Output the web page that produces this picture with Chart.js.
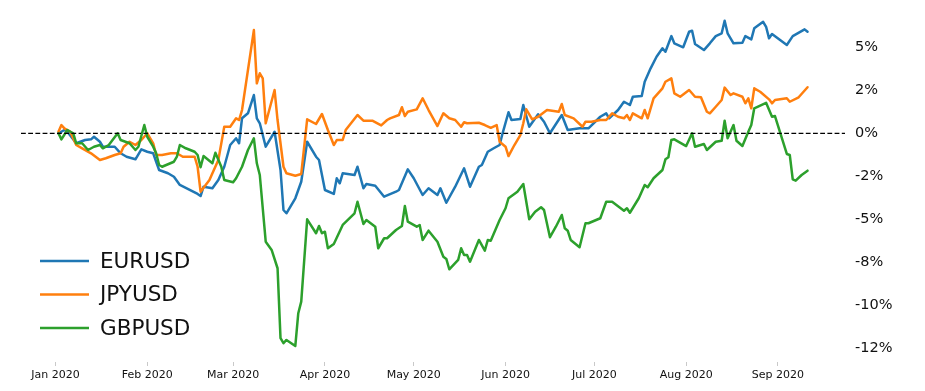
<!DOCTYPE html>
<html>
<head>
<meta charset="utf-8">
<script src="https://cdn.jsdelivr.net/npm/chart.js@4.4.1/dist/chart.umd.min.js"></script>
<style>
html,body{margin:0;padding:0;background:#fff;}
#wrap{width:925px;height:391px;}
</style>
</head>
<body>
<div id="wrap"><canvas id="c" width="925" height="391"></canvas></div>
<script>
// x values: days since 1 Jan 2020; y values: % change
const monthTickDays = [0, 31, 60, 91, 121, 152, 182, 213, 244];
const monthTickLabels = ['Jan 2020','Feb 2020','Mar 2020','Apr 2020','May 2020','Jun 2020','Jul 2020','Aug 2020','Sep 2020'];
const yTickValues = [5, 2.5, 0, -2.5, -5, -7.5, -10, -12.5];
const yTickLabels = ['5%','2%','0%','-2%','-5%','-8%','-10%','-12%'];
const seriesNames = ['EURUSD','JPYUSD','GBPUSD'];

const eurDay = [1,3,4,7,10,12,13,15,16,20,22,24,27,29,31,33,34,35,38,40,42,45,48,49,50,53,55,57,59,61,62,63,65,67,68,69,71,74,76,77,78,81,83,85,88,89,91,94,95,96,97,101,102,104,105,108,111,115,116,119,121,124,126,129,130,132,135,138,140,143,144,146,148,150,151,153,154,157,158,160,163,165,167,171,173,177,180,184,186,187,190,192,194,195,198,199,201,203,205,206,208,209,212,214,215,216,219,221,223,225,226,227,229,232,233,235,236,239,240,241,242,247,249,253,254];
const eurPct = [0,0.19,0.09,-0.58,-0.39,-0.35,-0.20,-0.49,-0.78,-0.78,-1.16,-1.36,-1.51,-0.93,-1.07,-1.16,-1.65,-2.13,-2.32,-2.52,-3.00,-3.25,-3.52,-3.64,-3.10,-3.19,-2.71,-1.94,-0.68,-0.29,-0.58,0.87,1.16,2.22,0.87,0.58,-0.78,0.09,-2.13,-4.45,-4.64,-3.77,-2.81,-0.49,-1.36,-1.55,-3.29,-3.52,-2.61,-2.90,-2.32,-2.42,-1.94,-3.19,-2.94,-3.04,-3.68,-3.39,-3.29,-2.09,-2.61,-3.58,-3.19,-3.58,-3.19,-4.03,-3.10,-2.03,-3.10,-1.94,-1.84,-1.07,-0.87,-0.68,0.00,1.22,0.77,0.83,1.64,0.38,1.10,0.67,0.00,1.06,0.19,0.29,0.29,0.96,1.16,0.87,1.35,1.83,1.64,2.12,2.16,2.99,3.77,4.44,4.93,4.73,5.64,5.22,4.99,5.89,5.95,5.18,4.83,5.22,5.64,5.80,6.53,5.80,5.22,5.26,5.64,5.45,6.09,6.47,6.18,5.51,5.76,5.12,5.64,6.03,5.89];

const jpyDay = [1,2,3,5,7,9,12,15,17,20,22,23,25,27,29,31,33,34,36,39,41,43,47,48,49,52,53,55,57,59,61,62,63,67,68,69,70,71,74,75,77,78,81,83,85,88,90,92,94,95,97,98,102,104,107,110,112,113,116,117,118,119,122,124,126,129,131,133,135,137,138,139,143,145,147,149,150,152,153,155,157,158,159,161,163,166,170,171,172,175,178,179,181,184,186,188,190,192,193,194,195,198,199,200,202,205,206,208,209,211,214,216,218,220,221,223,225,226,228,229,232,233,234,235,236,238,241,242,243,247,248,251,254];
const jpyPct = [0.09,0.48,0.29,0.09,-0.68,-0.87,-1.16,-1.55,-1.45,-1.26,-1.16,-0.78,-0.49,-0.68,-0.39,0.00,-0.58,-1.26,-1.26,-1.16,-1.16,-1.36,-1.36,-1.94,-3.39,-2.71,-2.32,-1.55,0.38,0.38,0.87,0.77,1.35,5.99,2.90,3.48,3.19,0.58,2.51,0.77,-1.94,-2.32,-2.46,-2.36,0.81,0.54,1.12,0.19,-0.68,-0.39,-0.39,0.19,1.06,0.73,0.73,0.46,0.77,0.87,1.06,1.51,1.00,1.25,1.39,2.03,1.35,0.42,1.16,0.87,0.77,0.38,0.64,0.58,0.61,0.48,0.32,0.48,-0.49,-0.78,-1.32,-0.68,-0.10,0.58,1.39,0.81,0.96,1.35,1.25,1.70,1.06,0.87,0.38,0.67,0.67,0.77,0.77,1.16,0.96,0.87,1.06,0.77,1.16,0.87,1.35,0.87,2.03,2.61,2.99,3.19,2.32,2.12,2.51,2.12,2.09,1.25,1.16,1.54,1.93,2.65,2.22,2.32,2.12,1.74,2.03,1.45,2.61,2.41,1.97,1.74,1.93,2.03,1.83,2.09,2.67];

const gbpDay = [1,2,4,6,7,9,11,13,15,16,18,21,22,25,27,28,30,31,33,34,35,36,40,41,42,44,47,48,49,50,53,54,56,57,60,61,63,65,67,68,69,71,73,75,76,77,78,81,82,83,85,88,89,90,91,92,94,97,101,102,104,105,108,109,111,112,115,117,118,119,122,123,124,126,129,131,132,133,136,137,138,139,140,143,145,146,147,150,152,153,156,158,160,162,164,165,167,169,171,172,173,174,177,179,180,184,186,188,192,193,194,197,199,200,202,205,206,207,208,209,213,215,216,219,220,223,225,226,227,229,230,232,234,235,236,240,242,243,247,248,249,250,252,254];
const gbpPct = [0,-0.35,0.19,0.00,-0.58,-0.58,-0.97,-0.78,-0.68,-0.87,-0.68,0.00,-0.39,-0.58,-0.97,-0.78,0.48,-0.20,-0.78,-1.16,-1.84,-1.94,-1.65,-1.36,-0.68,-0.87,-1.07,-1.26,-1.97,-1.32,-1.74,-1.13,-1.94,-2.71,-2.84,-2.61,-1.94,-0.97,-0.29,-1.74,-2.42,-6.29,-6.77,-7.83,-11.89,-12.18,-11.99,-12.34,-10.44,-9.77,-4.99,-5.80,-5.38,-5.80,-5.71,-6.67,-6.42,-5.32,-4.64,-3.97,-5.26,-5.03,-5.42,-6.67,-6.09,-6.09,-5.61,-5.38,-4.22,-5.13,-5.42,-5.32,-6.19,-5.65,-6.29,-7.16,-7.29,-7.89,-7.35,-6.67,-7.06,-7.06,-7.45,-6.19,-6.81,-6.19,-6.23,-5.03,-4.35,-3.77,-3.39,-2.94,-4.99,-4.55,-4.29,-4.45,-6.03,-5.42,-4.74,-5.51,-5.65,-6.19,-6.61,-5.22,-5.22,-4.93,-3.97,-3.97,-4.49,-4.35,-4.61,-3.77,-3.00,-3.13,-2.61,-2.13,-1.51,-1.39,-0.39,-0.35,-0.74,0.00,-0.78,-0.62,-0.97,-0.49,-0.43,0.73,-0.29,0.48,-0.43,-0.74,0.09,0.48,1.45,1.77,0.96,1.00,-1.20,-1.26,-2.67,-2.75,-2.42,-2.17];

const colors = ['#1f77b4', '#ff7f0e', '#2ca02c'];

function zip(days, vals) {
  const n = Math.min(days.length, vals.length);
  const out = [];
  for (let i = 0; i < n; i++) out.push({x: days[i], y: vals[i]});
  return out;
}

const FONT = "'DejaVu Sans', sans-serif";

const zeroLinePlugin = {
  id: 'zeroLine',
  afterDatasetsDraw(chart) {
    const {ctx, chartArea} = chart;
    const y = chart.scales.y.getPixelForValue(0);
    ctx.save();
    ctx.strokeStyle = '#000';
    ctx.lineWidth = 1.3;
    ctx.setLineDash([4.8, 2.4]);
    ctx.beginPath();
    ctx.moveTo(chartArea.left, y);
    ctx.lineTo(chartArea.right, y);
    ctx.stroke();
    ctx.restore();
  }
};

const legendPlugin = {
  id: 'customLegend',
  afterDraw(chart) {
    const {ctx} = chart;
    const rows = [261, 294.5, 328];
    ctx.save();
    ctx.font = "21.5px " + FONT;
    ctx.textBaseline = 'middle';
    ctx.textAlign = 'left';
    chart.data.datasets.forEach((ds, i) => {
      const y = rows[i];
      ctx.strokeStyle = ds.borderColor;
      ctx.lineWidth = 2.6;
      ctx.setLineDash([]);
      ctx.beginPath();
      ctx.moveTo(40, y);
      ctx.lineTo(89, y);
      ctx.stroke();
      ctx.fillStyle = '#111';
      ctx.fillText(ds.label, 100, y + 1);
    });
    ctx.restore();
  }
};

new Chart(document.getElementById('c'), {
  type: 'line',
  data: {
    datasets: [
      {label: seriesNames[0], data: zip(eurDay, eurPct), borderColor: colors[0], order: 2},
      {label: seriesNames[1], data: zip(jpyDay, jpyPct), borderColor: colors[1], order: 1},
      {label: seriesNames[2], data: zip(gbpDay, gbpPct), borderColor: colors[2], order: 0}
    ].map(d => Object.assign(d, {borderWidth: 2.5, pointRadius: 0, tension: 0, fill: false, borderJoinStyle: 'round', borderCapStyle: 'round'}))
  },
  options: {
    responsive: false,
    animation: false,
    devicePixelRatio: 1,
    layout: {padding: {left: 21, top: 3, right: 0, bottom: 0}},
    plugins: {legend: {display: false}, tooltip: {enabled: false}},
    scales: {
      x: {
        type: 'linear',
        min: -11.65,
        max: 266.65,
        afterBuildTicks(s) { s.ticks = monthTickDays.map(v => ({value: v})); },
        afterFit(s) { s.height = 29; s.paddingLeft = 0; s.paddingRight = 0; },
        border: {display: false},
        grid: {display: true, drawOnChartArea: false, drawTicks: true, tickLength: 4, color: '#bbbbbb', lineWidth: 0.8},
        ticks: {
          autoSkip: false, maxRotation: 0, minRotation: 0, padding: 3,
          color: '#111', font: {family: FONT, size: 11},
          callback(v) { const i = monthTickDays.indexOf(v); return i >= 0 ? monthTickLabels[i] : ''; }
        }
      },
      y: {
        type: 'linear',
        position: 'right',
        min: -13.27,
        max: 7.56,
        afterBuildTicks(s) { s.ticks = yTickValues.map(v => ({value: v})); },
        afterFit(s) { s.width = 80; s.paddingTop = 0; s.paddingBottom = 0; },
        border: {display: false},
        grid: {display: false, drawTicks: false},
        ticks: {
          autoSkip: false, padding: 10,
          color: '#111', font: {family: FONT, size: 14.5},
          callback(v) { const i = yTickValues.indexOf(v); return i >= 0 ? yTickLabels[i] : ''; }
        }
      }
    }
  },
  plugins: [zeroLinePlugin, legendPlugin]
});
</script>
</body>
</html>
